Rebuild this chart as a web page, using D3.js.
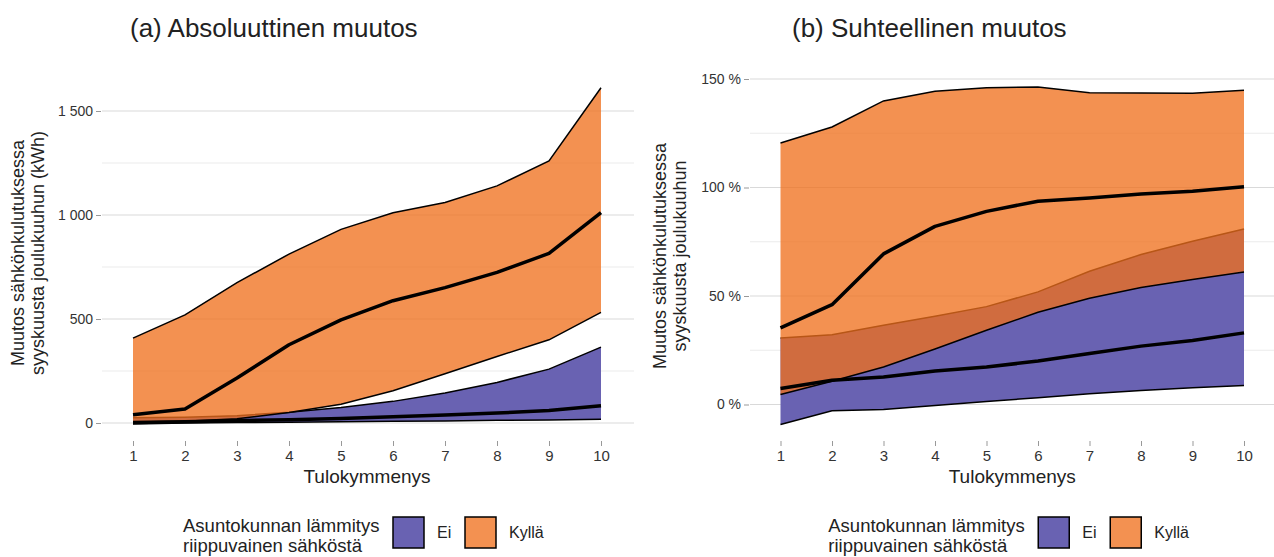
<!DOCTYPE html>
<html>
<head>
<meta charset="utf-8">
<script src="https://cdn.jsdelivr.net/npm/d3@7"></script>
<style>
  body { margin: 0; background: #fff; }
  text { font-family: "Liberation Sans", Arial, sans-serif; }
</style>
</head>
<body>
<div id="chart"></div>
<script>
// Data: deciles on x axis
var deciles = [1, 2, 3, 4, 5, 6, 7, 8, 9, 10];

// (a) absolute change, kWh
var absEiLow   = [-5, 0, 2, 4, 6, 8, 10, 13, 15, 18];
var absEiMean  = [2, 6, 11, 16, 22, 30, 38, 48, 60, 83];
var absEiHigh  = [25, 28, 35, 52, 75, 104, 144, 195, 259, 365];
var absKylLow  = [5, 8, 20, 50, 90, 155, 237, 320, 400, 532];
var absKylMean = [40, 67, 216, 376, 496, 588, 651, 724, 815, 1011];
var absKylHigh = [408, 520, 675, 812, 931, 1011, 1060, 1140, 1260, 1612];

// (b) relative change, %
var relEiLow   = [-9.2, -2.9, -2.3, -0.5, 1.4, 3.1, 4.9, 6.4, 7.7, 8.8];
var relEiMean  = [7.4, 11.2, 12.7, 15.4, 17.3, 20, 23.5, 26.9, 29.5, 33];
var relEiHigh  = [30.6, 32.1, 36.5, 40.7, 45.1, 51.9, 61.4, 69.1, 75.2, 80.9];
var relKylLow  = [4.6, 10.7, 17.3, 25.6, 34.2, 42.5, 49, 53.9, 57.6, 61.1];
var relKylMean = [35.3, 46, 69.4, 82.1, 89, 93.7, 95.2, 97, 98.3, 100.3];
var relKylHigh = [120.5, 127.9, 139.9, 144.3, 146, 146.3, 143.7, 143.6, 143.4, 144.8];

var absTicks = [0, 500, 1000, 1500];
var relTicks = [0, 50, 100, 150];

var legendTitle = ["Asuntokunnan lämmitys", "riippuvainen sähköstä"];
var legendKeys = ["Ei", "Kyllä"];

var blue = "#6962b2";
var orange = "#ef701c";
var orangeAlpha = 0.77;

var svgWidth = 1274;
var svgHeight = 557;

var fiLocale = d3.formatLocale({ decimal: ",", thousands: "\u00a0", grouping: [3], currency: ["", " €"] });
var fmtAbs = fiLocale.format(",d");

var svg = d3.select("#chart")
    .append("svg")
    .attr("width", svgWidth)
    .attr("height", svgHeight);

function drawPanel(cfg) {
    var g = svg.append("g");

    var x = d3.scaleLinear().domain([1, 10]).range(cfg.xRange);
    var y = d3.scaleLinear().domain(cfg.yDomain).range(cfg.yRange);

    // grid lines (major + minor)
    var step = cfg.ticks[1] - cfg.ticks[0];
    var minor = cfg.ticks.slice(0, -1).map(d => d + step / 2);
    g.selectAll(".minor").data(minor).enter().append("line")
        .attr("x1", cfg.gridX[0]).attr("x2", cfg.gridX[1])
        .attr("y1", d => y(d)).attr("y2", d => y(d))
        .attr("stroke", "#ebebeb").attr("stroke-width", 1);
    g.selectAll(".major").data(cfg.ticks).enter().append("line")
        .attr("x1", cfg.gridX[0]).attr("x2", cfg.gridX[1])
        .attr("y1", d => y(d)).attr("y2", d => y(d))
        .attr("stroke", "#d9d9d9").attr("stroke-width", 1);

    // y axis
    var yAxis = d3.axisLeft(y).tickValues(cfg.ticks).tickSize(5).tickPadding(3).tickFormat(cfg.fmt);
    var yg = g.append("g")
        .attr("transform", `translate(${cfg.gridX[0] - 1},0)`)
        .call(yAxis);
    yg.select(".domain").remove();
    yg.selectAll("line").attr("stroke", "#999");
    yg.selectAll("text").attr("font-size", 14).attr("fill", "#333")
        .style("font-family", "Liberation Sans, Arial, sans-serif");

    // x axis
    var xAxis = d3.axisBottom(x).tickValues(deciles).tickSize(5).tickPadding(4).tickFormat(d3.format("d"));
    var xg = g.append("g")
        .attr("transform", `translate(0,${cfg.xAxisY})`)
        .call(xAxis);
    xg.select(".domain").remove();
    xg.selectAll("line").attr("stroke", "#999");
    xg.selectAll("text").attr("font-size", 15).attr("fill", "#333")
        .style("font-family", "Liberation Sans, Arial, sans-serif");

    var rows = function (lo, hi) {
        return deciles.map((d, i) => ({ x: d, lo: lo[i], hi: hi[i] }));
    };
    var area = d3.area().x(d => x(d.x)).y0(d => y(d.lo)).y1(d => y(d.hi));
    var line = d3.line().x(d => x(d[0])).y(d => y(d[1]));
    var pts = arr => deciles.map((d, i) => [d, arr[i]]);

    // Ei ribbon
    g.append("path").datum(rows(cfg.eiLow, cfg.eiHigh))
        .attr("d", area).attr("fill", blue);
    [cfg.eiLow, cfg.eiHigh].forEach(function (arr) {
        g.append("path").datum(pts(arr)).attr("d", line)
            .attr("fill", "none").attr("stroke", "#000").attr("stroke-width", 1.5);
    });

    // Kyllä ribbon
    g.append("path").datum(rows(cfg.kylLow, cfg.kylHigh))
        .attr("d", area).attr("fill", orange).attr("fill-opacity", orangeAlpha);
    [cfg.kylLow, cfg.kylHigh].forEach(function (arr) {
        g.append("path").datum(pts(arr)).attr("d", line)
            .attr("fill", "none").attr("stroke", "#000").attr("stroke-width", 1.5);
    });

    // mean lines
    [cfg.eiMean, cfg.kylMean].forEach(function (arr) {
        g.append("path").datum(pts(arr)).attr("d", line)
            .attr("fill", "none").attr("stroke", "#000").attr("stroke-width", 3.5)
            .attr("stroke-linejoin", "round");
    });

    // titles
    var cx = (cfg.xRange[0] + cfg.xRange[1]) / 2;
    g.append("text")
        .attr("x", cfg.titleX).attr("y", 37)
        .attr("font-size", 26).attr("fill", "#222")
        .text(cfg.title);

    g.append("text")
        .attr("x", cx).attr("y", 483)
        .attr("text-anchor", "middle").attr("font-size", 19).attr("fill", "#222")
        .text("Tulokymmenys");

    var yt = g.append("text")
        .attr("transform", `translate(${cfg.yTitleX},${cfg.yTitleY}) rotate(-90)`)
        .attr("text-anchor", "middle").attr("font-size", 18).attr("fill", "#222");
    cfg.yTitle.forEach(function (t, i) {
        yt.append("tspan").attr("x", 0).attr("dy", i === 0 ? 0 : 20).text(t);
    });

    // legend
    var lx = cx - 184;
    var lg = g.append("g");
    legendTitle.forEach(function (t, i) {
        lg.append("text").attr("x", lx).attr("y", 532 + i * 20)
            .attr("font-size", 18.5).attr("fill", "#222").text(t);
    });
    var keyX = [cx + 26, cx + 98];
    var keyFill = [blue, orange];
    var keyOp = [1, orangeAlpha];
    legendKeys.forEach(function (k, i) {
        lg.append("rect").attr("x", keyX[i]).attr("y", 517).attr("width", 31).attr("height", 31)
            .attr("fill", keyFill[i]).attr("fill-opacity", keyOp[i])
            .attr("stroke", "#000").attr("stroke-width", 1.5);
        lg.append("text").attr("x", keyX[i] + 44).attr("y", 538)
            .attr("font-size", 16).attr("fill", "#222").text(k);
    });
}

drawPanel({
    title: "(a) Absoluuttinen muutos",
    titleX: 130,
    xRange: [133, 601],
    yDomain: [0, 1500],
    yRange: [423, 111],
    gridX: [102, 634],
    xAxisY: 441,
    ticks: absTicks,
    fmt: fmtAbs,
    yTitle: ["Muutos sähkönkulutuksessa", "syyskuusta joulukuuhun (kWh)"],
    yTitleX: 24, yTitleY: 253,
    eiLow: absEiLow, eiMean: absEiMean, eiHigh: absEiHigh,
    kylLow: absKylLow, kylMean: absKylMean, kylHigh: absKylHigh
});

drawPanel({
    title: "(b) Suhteellinen muutos",
    titleX: 792,
    xRange: [780.5, 1244],
    yDomain: [0, 150],
    yRange: [404.5, 79],
    gridX: [750, 1274],
    xAxisY: 441,
    ticks: relTicks,
    fmt: d => d + "\u00a0%",
    yTitle: ["Muutos sähkönkulutuksessa", "syyskuusta joulukuuhun"],
    yTitleX: 666, yTitleY: 256,
    eiLow: relEiLow, eiMean: relEiMean, eiHigh: relEiHigh,
    kylLow: relKylLow, kylMean: relKylMean, kylHigh: relKylHigh
});
</script>
</body>
</html>
